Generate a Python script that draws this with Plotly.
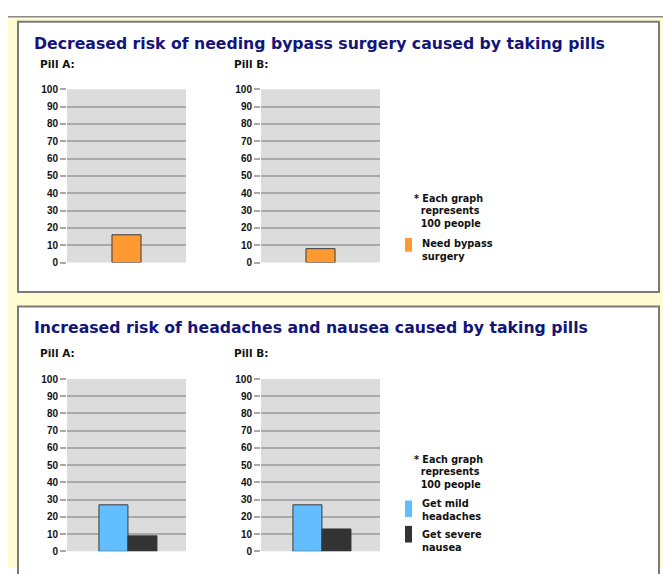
import plotly.graph_objects as go

W, H = 663, 574

# ---- data ----
title_top = "Decreased risk of needing bypass surgery caused by taking pills"
title_bottom = "Increased risk of headaches and nausea caused by taking pills"
pill_labels = ["Pill A:", "Pill B:"]
y_ticks = [0, 10, 20, 30, 40, 50, 60, 70, 80, 90, 100]

bypass_series = "Need bypass surgery"
bypass_values = {"Pill A": 16, "Pill B": 8}

side_categories = ["Get mild headaches", "Get severe nausea"]
side_values = {"Pill A": [27, 9], "Pill B": [27, 13]}

# ---- colours ----
ORANGE = "#FF9A33"
BLUE = "#63BEFF"
DARK = "#333333"
EDGE = "#3a3a3a"
CREAM = "#FFFBD2"
NAVY = "#14147A"
GRID = "#A9A9A9"
PLOTBG = "#DCDCDC"
FONT = "Liberation Sans"
TFONT = "DejaVu Sans"


def px(x):
    return x / W


def py(y):
    return 1 - y / H


fig = go.Figure()

xA = [px(67), px(186)]
xB = [px(261), px(380)]
y_top = [py(262), py(85)]
y_bot = [py(557), py(381)]

fig.add_trace(go.Bar(x=["Pill A"], y=[bypass_values["Pill A"]], width=0.244,
                     marker=dict(color=ORANGE, line=dict(color=EDGE, width=1)),
                     xaxis="x", yaxis="y", showlegend=False, name=bypass_series))
fig.add_trace(go.Bar(x=["Pill B"], y=[bypass_values["Pill B"]], width=0.244,
                     marker=dict(color=ORANGE, line=dict(color=EDGE, width=1)),
                     xaxis="x2", yaxis="y2", showlegend=False, name=bypass_series))
fig.add_trace(go.Bar(x=side_categories, y=side_values["Pill A"], width=1.0,
                     marker=dict(color=[BLUE, DARK], line=dict(color=EDGE, width=1)),
                     xaxis="x3", yaxis="y3", showlegend=False))
fig.add_trace(go.Bar(x=side_categories, y=side_values["Pill B"], width=1.0,
                     marker=dict(color=[BLUE, DARK], line=dict(color=EDGE, width=1)),
                     xaxis="x4", yaxis="y4", showlegend=False))

yax = dict(range=[0, 100], tickvals=y_ticks, showgrid=True, gridcolor=GRID,
           gridwidth=1.5, ticks="outside", ticklen=6, tickcolor=GRID,
           tickwidth=1.5, zeroline=False, showline=False,
           tickfont=dict(family=FONT, size=10, color="#111111", weight="bold"),
           fixedrange=True)
xax_single = dict(type="category", range=[-0.5, 0.5], showticklabels=False,
                  showgrid=False, zeroline=False, showline=False, ticks="")
xax_double = dict(type="category", range=[-1.6, 2.5], showticklabels=False,
                  showgrid=False, zeroline=False, showline=False, ticks="")

fig.update_layout(
    width=W, height=H, margin=dict(l=0, r=0, t=0, b=0),
    paper_bgcolor="white", plot_bgcolor=PLOTBG,
    barmode="overlay",
    xaxis=dict(domain=xA, anchor="y", **xax_single),
    yaxis=dict(domain=y_top, anchor="x", **yax),
    xaxis2=dict(domain=xB, anchor="y2", **xax_single),
    yaxis2=dict(domain=y_top, anchor="x2", **yax),
    xaxis3=dict(domain=xA, anchor="y3", **xax_double),
    yaxis3=dict(domain=y_bot, anchor="x3", **yax),
    xaxis4=dict(domain=xB, anchor="y4", **xax_double),
    yaxis4=dict(domain=y_bot, anchor="x4", **yax),
)

shapes = []
shapes.append(dict(type="rect", xref="paper", yref="paper", layer="below",
                   x0=px(8), x1=1, y0=0, y1=py(11),
                   fillcolor=CREAM, line=dict(width=0)))
shapes.append(dict(type="line", xref="paper", yref="paper", layer="below",
                   x0=px(8), x1=1, y0=py(11), y1=py(11),
                   line=dict(color="#8a8a8a", width=1.5)))
for (t, b) in [(16, 292), (307, 600)]:
    shapes.append(dict(type="rect", xref="paper", yref="paper", layer="below",
                       x0=px(18), x1=px(659), y0=py(b), y1=py(t),
                       fillcolor="white", line=dict(color="#7a7a7a", width=2)))
for ax in ["", "2", "3", "4"]:
    shapes.append(dict(type="rect", xref="x%s domain" % ax, yref="y%s domain" % ax,
                       layer="below", x0=0, x1=1, y0=0, y1=1,
                       fillcolor=PLOTBG, line=dict(width=0)))
shapes.append(dict(type="rect", xref="paper", yref="paper",
                   x0=px(405), x1=px(412), y0=py(251), y1=py(237),
                   fillcolor=ORANGE, line=dict(width=0)))
shapes.append(dict(type="rect", xref="paper", yref="paper",
                   x0=px(405), x1=px(412), y0=py(522), y1=py(505),
                   fillcolor=BLUE, line=dict(width=0)))
shapes.append(dict(type="rect", xref="paper", yref="paper",
                   x0=px(405), x1=px(412), y0=py(548), y1=py(531),
                   fillcolor=DARK, line=dict(width=0)))
fig.update_layout(shapes=shapes)

ann = []


def text(x, y, s, size=10, color="#111111", family=FONT):
    ann.append(dict(xref="paper", yref="paper", x=px(x), y=py(y), text=s,
                    showarrow=False, xanchor="left", yanchor="middle", align="left",
                    font=dict(family=family, size=size, color=color)))


text(32, 38, "<b>%s</b>" % title_top, size=15.7, color=NAVY, family=TFONT)
text(32, 328, "<b>%s</b>" % title_bottom, size=15.7, color=NAVY, family=TFONT)
for yy in [59, 354]:
    text(38, yy, "<b>%s</b>" % pill_labels[0], size=10.5, family=TFONT)
    text(232, yy, "<b>%s</b>" % pill_labels[1], size=10.5, family=TFONT)

note = "<b>* Each graph</b><br><b>  represents</b><br><b>  100 people</b>"
for yy in [209, 476]:
    text(412, yy, note, size=9.6, family=TFONT)

text(420, 249, "<b>Need bypass</b><br><b>surgery</b>", size=9.8, family=TFONT)
text(420, 515, "<b>Get mild</b><br><b>headaches</b>", size=9.8, family=TFONT)
text(420, 546, "<b>Get severe</b><br><b>nausea</b>", size=9.8, family=TFONT)

fig.update_layout(annotations=ann)

post = (
    "document.documentElement.style.margin='0';"
    "document.documentElement.style.overflow='hidden';"
    "document.body.style.margin='0';"
    "document.body.style.overflow='hidden';"
    "document.body.style.height='574px';"
    "var d=document.querySelector('.plotly-graph-div');"
    "d.style.position='fixed';d.style.top='0px';d.style.left='0px';"
)
fig.write_html("out.html", config={"displayModeBar": False}, post_script=post)
